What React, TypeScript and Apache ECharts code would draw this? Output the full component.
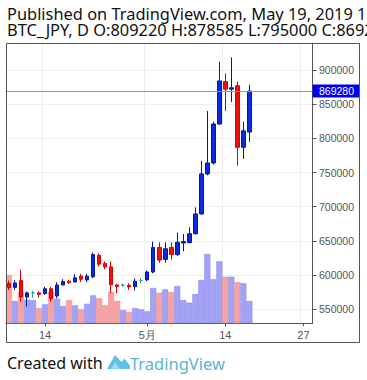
import React, { useEffect, useRef } from "react";
import * as echarts from "echarts";

// ---- data ----
const dates = [
  "2019-04-08", "2019-04-09", "2019-04-10", "2019-04-11", "2019-04-12", "2019-04-13", "2019-04-14",
  "2019-04-15", "2019-04-16", "2019-04-17", "2019-04-18", "2019-04-19", "2019-04-20", "2019-04-21",
  "2019-04-22", "2019-04-23", "2019-04-24", "2019-04-25", "2019-04-26", "2019-04-27", "2019-04-28",
  "2019-04-29", "2019-04-30", "2019-05-01", "2019-05-02", "2019-05-03", "2019-05-04", "2019-05-05",
  "2019-05-06", "2019-05-07", "2019-05-08", "2019-05-09", "2019-05-10", "2019-05-11", "2019-05-12",
  "2019-05-13", "2019-05-14", "2019-05-15", "2019-05-16", "2019-05-17", "2019-05-18", "2019-05-19",
  "2019-05-20", "2019-05-21", "2019-05-22", "2019-05-23", "2019-05-24", "2019-05-25", "2019-05-26",
  "2019-05-27", "2019-05-28",
];

const opens = [
  588000, 582000, 592000, 568000, 574000, 574000, 573000, 580000, 569500, 585500,
  591000, 590000, 598500, 593000, 597500, 629000, 617000, 612000, 585500, 585000,
  585000, 583000, 592000, 593000, 604500, 640500, 623000, 640500, 630000, 647000,
  647500, 660500, 689500, 748000, 764000, 821000, 883000, 872000, 877000, 787000,
  809220,
];
const closes = [
  582000, 588500, 568000, 574000, 574000, 572000, 580000, 565500, 585500, 590500,
  589000, 596000, 594000, 598500, 630000, 616000, 612000, 586000, 583500, 585000,
  583000, 591000, 592000, 604500, 640500, 622000, 638500, 630000, 648000, 649000,
  660500, 689500, 748000, 764000, 821000, 884000, 872000, 874000, 787000, 811000,
  869280,
];
const lows = [
  578000, 578000, 561000, 554000, 567000, 567000, 571000, 561000, 566000, 585000,
  587000, 589000, 590000, 590000, 595500, 612500, 608500, 573500, 573500, 583000,
  578000, 577500, 588000, 591000, 602500, 618000, 618000, 623000, 628000, 635000,
  646500, 659500, 688500, 746000, 761500, 820000, 840000, 853000, 760000, 770000,
  795000,
];
const highs = [
  592000, 592500, 608000, 576000, 577000, 576000, 583000, 583000, 589500, 594000,
  593000, 601500, 601500, 601500, 633000, 632000, 620000, 620000, 587000, 588000,
  588000, 595000, 596000, 606500, 649000, 648000, 648000, 648000, 662000, 660000,
  670000, 699000, 767000, 840000, 824500, 912000, 895000, 918500, 883000, 824500,
  878585,
];
const volumes = [
  4830, 2230, 3160, 2360, 2300, 1530, 1900, 3160, 2450, 1730,
  2330, 1800, 1400, 1950, 2800, 2500, 1800, 3130, 2250, 1330,
  1160, 1530, 1400, 1200, 3530, 3060, 3400, 3130, 3730, 2330,
  2060, 2930, 4330, 6930, 4400, 6200, 4660, 4660, 4130, 4000,
  2230,
];

const tickDates = ["2019-04-14", "2019-05-01", "2019-05-14", "2019-05-27"];
const tickTexts = ["14", "5月", "14", "27"];

const headerLine1 = "Published on TradingView.com, May 19, 2019 16:05 UTC";
const headerLine2 = "BTC_JPY, D O:809220 H:878585 L:795000 C:869280";

export default function App() {
  const ref = useRef<HTMLDivElement>(null);

  useEffect(() => {
    if (!ref.current) return;
    const chart = echarts.init(ref.current, null, { renderer: "svg" });

    const lastClose = closes[closes.length - 1];
    const candleData = opens.map((o, i) => [o, closes[i], lows[i], highs[i]]);
    const volData = volumes.map((v, i) => {
      const up = closes[i] >= opens[i];
      return {
        value: v,
        itemStyle: {
          color: up ? "#a2a2f7" : "#f7a3a3",
          borderColor: up ? "#8b8bef" : "#ef8f8f",
          borderWidth: 0.6,
        },
      };
    });
    const isTick = (i: number) => tickDates.indexOf(dates[i]) >= 0;

    const option: any = {
      animation: false,
      backgroundColor: "#ffffff",
      textStyle: { fontFamily: "'Liberation Sans', Arial, sans-serif" },
      grid: { left: 6, right: 54.5, top: 43, bottom: 56.7, containLabel: false },
      xAxis: {
        type: "category",
        data: dates,
        boundaryGap: true,
        axisLine: { show: true, lineStyle: { color: "#555555", width: 1 } },
        axisTick: {
          show: true,
          interval: (i: number) => isTick(i),
          alignWithLabel: true,
          length: 3,
          lineStyle: { color: "#555555" },
        },
        axisLabel: {
          interval: (i: number) => isTick(i),
          formatter: (v: string) => {
            const k = tickDates.indexOf(v);
            return k >= 0 ? tickTexts[k] : "";
          },
          color: "#555555",
          fontSize: 11,
          margin: 6,
        },
        splitLine: {
          show: true,
          interval: (i: number) => isTick(i),
          lineStyle: { color: "#eceef2", width: 1 },
        },
      },
      yAxis: [
        {
          type: "value",
          position: "right",
          min: 529500,
          max: 939500,
          splitNumber: 8,
          minInterval: 50000,
          maxInterval: 50000,
          axisLine: { show: true, lineStyle: { color: "#555555", width: 1 } },
          axisTick: { show: true, length: 4, lineStyle: { color: "#555555" } },
          axisLabel: {
            color: "#555555",
            fontSize: 10.5,
            margin: 6.5,
            showMinLabel: false,
            showMaxLabel: false,
            formatter: (v: number) => String(v),
          },
          splitLine: { show: true, lineStyle: { color: "#eceef2", width: 1 } },
        },
        {
          type: "value",
          min: 0,
          max: 28030,
          show: false,
          splitLine: { show: false },
        },
      ],
      series: [
        {
          type: "bar",
          yAxisIndex: 1,
          data: volData,
          barCategoryGap: "0%",
          z: 1,
        },
        {
          type: "candlestick",
          data: candleData,
          barWidth: 4,
          z: 3,
          itemStyle: {
            color: "#0a2be0",
            color0: "#f01010",
            borderColor: "#001a9a",
            borderColor0: "#d80000",
            borderColorDoji: "#2f9a9a",
            borderWidth: 1,
          },
          markLine: {
            silent: true,
            symbol: ["none", "none"],
            data: [{ yAxis: lastClose }],
            lineStyle: { color: "#8c8cf2", width: 1, type: "solid" },
            label: {
              show: true,
              position: "end",
              distance: 0,
              formatter: String(lastClose),
              color: "#ffffff",
              backgroundColor: "#0000ee",
              fontSize: 10.5,
              lineHeight: 13,
              padding: [0, 5, 0, 6.5],
            },
          },
        },
      ],
      graphic: [
        {
          type: "rect",
          shape: { x: 6.5, y: 43.5, width: 353, height: 299 },
          style: { fill: "none", stroke: "#555555", lineWidth: 1 },
          z: 100,
        },
        {
          type: "text",
          x: 7,
          y: 6,
          style: {
            text: headerLine1,
            fill: "#111111",
            font: "16.4px 'Noto Sans', sans-serif",
            lineHeight: 15,
          },
        },
        {
          type: "text",
          x: 7,
          y: 22,
          style: {
            text: headerLine2,
            fill: "#111111",
            font: "16.4px 'Noto Sans', sans-serif",
            lineHeight: 15,
          },
        },
        {
          type: "text",
          x: 7,
          y: 355,
          style: {
            text: "Created with",
            fill: "#111111",
            font: "16px 'Noto Sans', sans-serif",
          },
        },
        {
          type: "polygon",
          shape: { points: [[107, 369], [115, 355], [121.5, 362], [124.5, 358.5], [130, 366], [130, 369]] },
          style: { fill: "#5fc1e8" },
        },
        {
          type: "polygon",
          shape: { points: [[111, 369], [115, 362], [120, 369]] },
          style: { fill: "#9ad8f0" },
        },
        {
          type: "text",
          x: 130,
          y: 355,
          style: {
            text: "TradingView",
            fill: "#5ab3d9",
            font: "16.5px 'Noto Sans', sans-serif",
          },
        },
      ],
    };

    chart.setOption(option);
    return () => chart.dispose();
  }, []);

  return (
    <div
      ref={ref}
      style={{ position: "fixed", left: 0, top: 0, width: 367, height: 380, background: "#fff" }}
    />
  );
}
